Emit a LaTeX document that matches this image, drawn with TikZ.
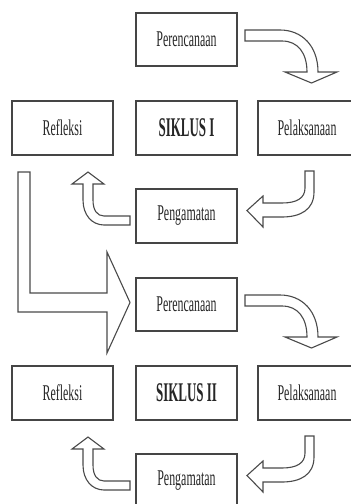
\documentclass[tikz,border=0pt]{standalone}
\usepackage{fontspec}
\setmainfont{Liberation Serif}
\usepackage{graphicx}
\definecolor{boxgray}{HTML}{454545}
\definecolor{arrgray}{HTML}{4A4A4A}
\newcommand{\boxlbl}[1]{\scalebox{0.53}[1]{\fontsize{22.5}{22.5}\selectfont #1}}
\newcommand{\cyclbl}[1]{\scalebox{0.48}[1]{\fontsize{27}{27}\selectfont\bfseries #1}}
\tikzset{
  stagebox/.style={draw=boxgray, line width=1.3pt, minimum width=101pt, minimum height=54pt, inner sep=0pt, fill=white, text=black!85},
  blockarrow/.style={draw=arrgray, line width=1.1pt, fill=white, line join=miter},
}
\begin{document}
\begin{tikzpicture}[x=1pt,y=-1pt]
\useasboundingbox (0,0) rectangle (351,504);
\fill[white] (0,0) rectangle (351,504);
% big L arrow from Refleksi (cycle I) to Perencanaan (cycle II)
\draw[blockarrow] (18,172) -- (30,172) -- (30,293) -- (107,293) -- (107,252) -- (130,302.5) -- (107,353) -- (107,312) -- (18,312) -- cycle;
\foreach \c/\cyc/\d in {1/I/0, 2/II/265} {
  \begin{scope}[yshift=-\d pt]
    \node[stagebox, minimum height=53pt] (per\c) at (186.5,39.5) {\boxlbl{Perencanaan}};
    \node[stagebox] (ref\c) at (62.5,128) {\boxlbl{Refleksi}};
    \node[stagebox] (sik\c) at (186.5,128) {\cyclbl{SIKLUS \cyc}};
    \node[stagebox, minimum width=98pt] (pel\c) at (307,128) {\boxlbl{Pelaksanaan}};
    \node[stagebox] (pen\c) at (186.5,216) {\boxlbl{Pengamatan}};
    % Perencanaan -> Pelaksanaan
    \draw[blockarrow] (245,30) -- (280,30) .. controls (302,30) and (318,46) .. (318,72) -- (337,72) -- (311.5,83) -- (285,72) -- (307,72) .. controls (307,53) and (298,41) .. (282,41) -- (245,41) -- cycle;
    % Pelaksanaan -> Pengamatan
    \draw[blockarrow] (305,171) -- (314,171) -- (314,192) .. controls (314,210) and (300,217) .. (282,217) -- (263,217) -- (263,227) -- (247,210.5) -- (263,196) -- (263,203) -- (282,203) .. controls (297,203) and (305,198) .. (305,188) -- cycle;
    % Pengamatan -> Refleksi
    \draw[blockarrow] (130,216) -- (104,216) .. controls (97,216) and (93,210) .. (93,200) -- (93,184) -- (104,184) -- (88,172) -- (72,184) -- (83,184) -- (83,200) .. controls (83,215) and (92,225) .. (104,225) -- (130,225) -- cycle;
  \end{scope}
}
\end{tikzpicture}
\end{document}
